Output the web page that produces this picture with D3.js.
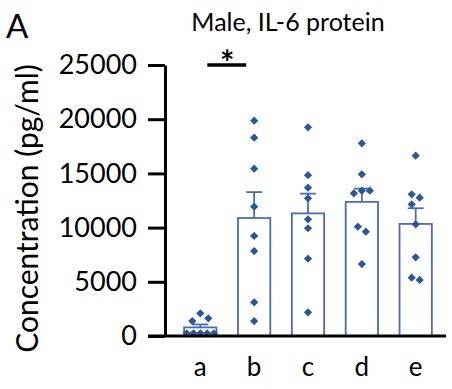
<!DOCTYPE html>
<html>
<head>
<meta charset="utf-8">
<script src="https://cdn.jsdelivr.net/npm/d3@7"></script>
<style>
  body { margin: 0; background: #fff; }
  svg text { font-family: Lato, "Open Sans", sans-serif; fill: #000; }
</style>
</head>
<body>
<div id="chart"></div>
<script>
// groups on the x axis
var groups = ["a", "b", "c", "d", "e"];

// individual animals per group (pg/ml)
var pointsA = [2090, 1630, 1380, 250, 250, 250, 250, 250];
var pointsB = [19860, 18290, 15430, 11930, 9230, 7840, 3110, 1380];
var pointsC = [19250, 14830, 13680, 12700, 10770, 9940, 7130, 2190];
var pointsD = [17780, 14920, 13400, 13400, 13160, 10080, 9620, 6640];
var pointsE = [16630, 13070, 12760, 12150, 10300, 7260, 5380, 5170];

var yTicks = [0, 5000, 10000, 15000, 20000, 25000];
var titleText = "Male, IL-6 protein";
var yLabel = "Concentration (pg/ml)";

var allPoints = [pointsA, pointsB, pointsC, pointsD, pointsE];

var width = 452, height = 389;
var barColor = "#4a6db0";
var dotColor = "#2f5597";

var svg = d3.select("#chart").append("svg")
    .attr("width", width)
    .attr("height", height);

var y = d3.scaleLinear().domain([0, 25000]).range([336, 65]);
var x = d3.scaleBand().domain(groups).range([168, 448])
    .paddingInner(0.4).paddingOuter(0.3);

// panel letter + title
svg.append("text").attr("x", 6).attr("y", 38)
    .style("font-size", "33px").text("A");
svg.append("text").attr("x", 288).attr("y", 31)
    .attr("text-anchor", "middle")
    .style("font-size", "25px").text(titleText);

// y label
svg.append("text")
    .attr("transform", "translate(38," + ((65 + 352) / 2) + ") rotate(-90)")
    .attr("text-anchor", "middle")
    .style("font-size", "30px")
    .text(yLabel);

// y axis
var yAxis = svg.append("g")
    .attr("transform", "translate(165,0)")
    .call(d3.axisLeft(y).tickValues(yTicks).tickFormat(d3.format("d"))
        .tickSize(17).tickSizeOuter(0).tickPadding(11));
yAxis.select(".domain").attr("stroke", "#000").attr("stroke-width", 3);
yAxis.selectAll(".tick line").attr("stroke", "#000").attr("stroke-width", 3);
yAxis.selectAll(".tick text")
    .style("font-family", "Lato, 'Open Sans', sans-serif")
    .style("font-size", "27px");

// summary stats
var stats = groups.map(function(g, i){
    var v = allPoints[i];
    return {
        g: g,
        mean: d3.mean(v),
        sem: d3.deviation(v) / Math.sqrt(v.length)
    };
});

// bars
svg.selectAll("rect.bar")
    .data(stats)
    .enter().append("rect")
    .attr("class", "bar")
    .attr("x", function(d){ return x(d.g); })
    .attr("width", x.bandwidth())
    .attr("y", function(d){ return y(d.mean); })
    .attr("height", function(d){ return y(0) - y(d.mean); })
    .attr("fill", "#fff")
    .attr("stroke", barColor)
    .attr("stroke-width", 1.8);

// error bars (up only)
var capHalf = 8;
var err = svg.selectAll("g.err").data(stats).enter().append("g").attr("class", "err");
err.append("line")
    .attr("x1", function(d){ return x(d.g) + x.bandwidth() / 2; })
    .attr("x2", function(d){ return x(d.g) + x.bandwidth() / 2; })
    .attr("y1", function(d){ return y(d.mean); })
    .attr("y2", function(d){ return y(d.mean + d.sem); })
    .attr("stroke", barColor).attr("stroke-width", 1.8);
err.append("line")
    .attr("x1", function(d){ return x(d.g) + x.bandwidth() / 2 - capHalf; })
    .attr("x2", function(d){ return x(d.g) + x.bandwidth() / 2 + capHalf; })
    .attr("y1", function(d){ return y(d.mean + d.sem); })
    .attr("y2", function(d){ return y(d.mean + d.sem); })
    .attr("stroke", barColor).attr("stroke-width", 1.8);

// simple dodge so points don't sit on top of each other
function dodge(values){
    var step = 8, maxHalf = x.bandwidth() * 0.42;
    var pts = values.map(function(v){ return {v: v, py: y(v), dx: 0}; })
        .sort(function(a, b){ return b.v - a.v; });
    var placed = [];
    pts.forEach(function(p){
        var order = [0, 1, -1, 2, -2, 3, -3, 4, -4];
        for(var k in order){
            var dx = order[k] * step;
            var hit = placed.some(function(q){
                return Math.hypot(dx - q.dx, p.py - q.py) < 8;
            });
            if(!hit){ p.dx = dx; break; }
        }
        placed.push(p);
    });
    // group touching points and recenter each group
    var seen = [];
    placed.forEach(function(p, i){
        if(seen[i]) return;
        var cluster = [i], stack = [i];
        seen[i] = true;
        while(stack.length){
            var a = placed[stack.pop()];
            placed.forEach(function(q, j){
                if(!seen[j] && Math.hypot(a.dx - q.dx, a.py - q.py) < 12){
                    seen[j] = true; cluster.push(j); stack.push(j);
                }
            });
        }
        var ext = d3.extent(cluster, function(j){ return placed[j].dx; });
        var mid = (ext[0] + ext[1]) / 2;
        var span = Math.max(Math.abs(ext[0] - mid), Math.abs(ext[1] - mid));
        var s = span > maxHalf ? maxHalf / span : 1;
        cluster.forEach(function(j){ placed[j].dx = (placed[j].dx - mid) * s; });
    });
    return placed;
}

var diamond = d3.symbol().type(d3.symbolSquare).size(34);
groups.forEach(function(g, i){
    var cx = x(g) + x.bandwidth() / 2;
    svg.append("g").selectAll("path")
        .data(dodge(allPoints[i]))
        .enter().append("path")
        .attr("d", diamond)
        .attr("transform", function(d){
            return "translate(" + (cx + d.dx) + "," + d.py + ") rotate(45)";
        })
        .attr("fill", dotColor);
});

// x baseline + labels
svg.append("line")
    .attr("x1", 148).attr("x2", 446)
    .attr("y1", y(0)).attr("y2", y(0))
    .attr("stroke", "#000").attr("stroke-width", 3);
svg.selectAll("text.xlab")
    .data(groups)
    .enter().append("text")
    .attr("class", "xlab")
    .attr("x", function(d){ return x(d) + x.bandwidth() / 2; })
    .attr("y", 376)
    .attr("text-anchor", "middle")
    .style("font-size", "26px")
    .text(function(d){ return d; });

// significance a vs b
var sigY = 65;
svg.append("line")
    .attr("x1", x("a") + x.bandwidth() / 2 + 7)
    .attr("x2", x("b") + x.bandwidth() / 2 - 8)
    .attr("y1", sigY).attr("y2", sigY)
    .attr("stroke", "#000").attr("stroke-width", 3.5);
svg.append("text")
    .attr("x", (x("a") + x("b") + x.bandwidth()) / 2)
    .attr("y", sigY + 10)
    .attr("text-anchor", "middle")
    .style("font-size", "34px")
    .style("font-weight", "bold")
    .text("*");
</script>
</body>
</html>
